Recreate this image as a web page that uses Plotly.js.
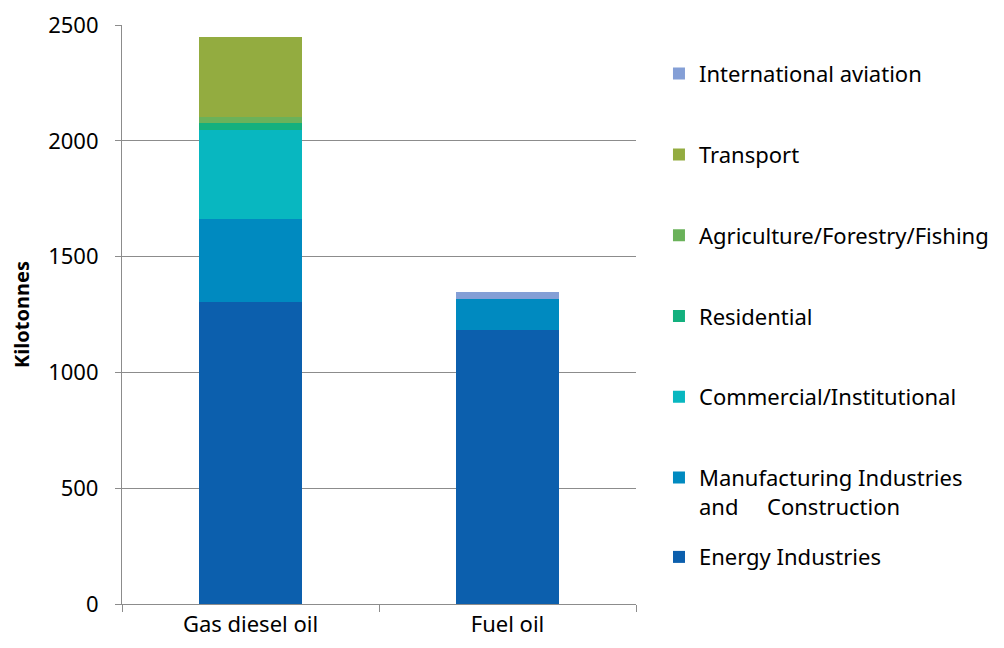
<!DOCTYPE html>
<html>
<head>
<meta charset="utf-8">
<script src="https://cdn.plot.ly/plotly-3.0.1.min.js"></script>
<style>
  html, body { margin: 0; padding: 0; background: #fff; }
  #chart { width: 1004px; height: 648px; }
</style>
</head>
<body>
<div id="chart"></div>
<script>
// Categories (x axis)
const categories = ["Gas diesel oil", "Fuel oil"];

// Series names (stack order bottom -> top)
const seriesNames = [
  "Energy Industries",
  "Manufacturing Industries<br>and\u00a0\u00a0\u00a0\u00a0 Construction",
  "Commercial/Institutional",
  "Residential",
  "Agriculture/Forestry/Fishing",
  "Transport",
  "International aviation"
];

// Values in kilotonnes, per category [Gas diesel oil, Fuel oil]
const energyIndustries   = [1306, 1183];
const manufacturing      = [356, 134];
const commercial         = [386, 0];
const residential        = [29, 0];
const agriculture        = [26, 0];
const transport          = [347, 0];
const internationalAviation = [0, 30];

const seriesValues = [energyIndustries, manufacturing, commercial, residential, agriculture, transport, internationalAviation];
const seriesColors = ["#0C5FAD", "#008AC0", "#08B7C0", "#13B07E", "#6AB25A", "#93AC40", "#849FD6"];

// Y tick values
const yTicks = [0, 500, 1000, 1500, 2000, 2500];

const FONT = "'Noto Sans', 'Open Sans', sans-serif";

const traces = seriesNames.map((name, i) => ({
  type: "bar",
  name: name,
  x: categories,
  y: seriesValues[i],
  marker: { color: seriesColors[i], line: { width: 0 } },
  legendgroup: "g" + i,
  legendrank: 1000 - i,
  legend: i === 0 ? "legend2" : "legend",
  hoverinfo: "x+y+name"
}));

const layout = {
  width: 1004,
  height: 648,
  margin: { l: 122, r: 368, t: 25, b: 44, autoexpand: false },
  paper_bgcolor: "#ffffff",
  plot_bgcolor: "#ffffff",
  barmode: "stack",
  bargap: 0.6,
  font: { family: FONT, size: 22, color: "#000000" },
  showlegend: true,
  xaxis: {
    type: "category",
    tickson: "boundaries",
    ticks: "outside",
    ticklen: 7,
    tickwidth: 1.25,
    tickcolor: "#8c8c8c",
    showline: true,
    linecolor: "#8c8c8c",
    linewidth: 1.25,
    showgrid: false,
    tickfont: { family: FONT, size: 22, color: "#000" },
    fixedrange: true
  },
  yaxis: {
    range: [0, 2500],
    tickvals: yTicks,
    ticktext: yTicks.map(String),
    ticks: "outside",
    ticklen: 6,
    tickwidth: 1.25,
    tickcolor: "#8c8c8c",
    ticklabelstandoff: 12,
    showline: true,
    linecolor: "#8c8c8c",
    linewidth: 1.25,
    showgrid: true,
    gridcolor: "#8c8c8c",
    gridwidth: 1.25,
    zeroline: false,
    tickfont: { family: FONT, size: 22, color: "#000" },
    title: { text: "Kilotonnes", font: { family: FONT, size: 20, color: "#000", weight: "bold" }, standoff: 13 },
    fixedrange: true
  },
  legend: {
    x: 1.0447,
    xanchor: "left",
    y: 0.952,
    yanchor: "top",
    traceorder: "grouped",
    tracegroupgap: 49.2,
    valign: "top",
    font: { family: FONT, size: 22, color: "#000" },
    bgcolor: "rgba(0,0,0,0)",
    borderwidth: 0
  },
  legend2: {
    x: 1.0447,
    xanchor: "left",
    y: 0.081,
    yanchor: "middle",
    valign: "top",
    font: { family: FONT, size: 22, color: "#000" },
    bgcolor: "rgba(0,0,0,0)",
    borderwidth: 0
  }
};

Plotly.newPlot("chart", traces, layout, { displayModeBar: false, responsive: false });
</script>
</body>
</html>
